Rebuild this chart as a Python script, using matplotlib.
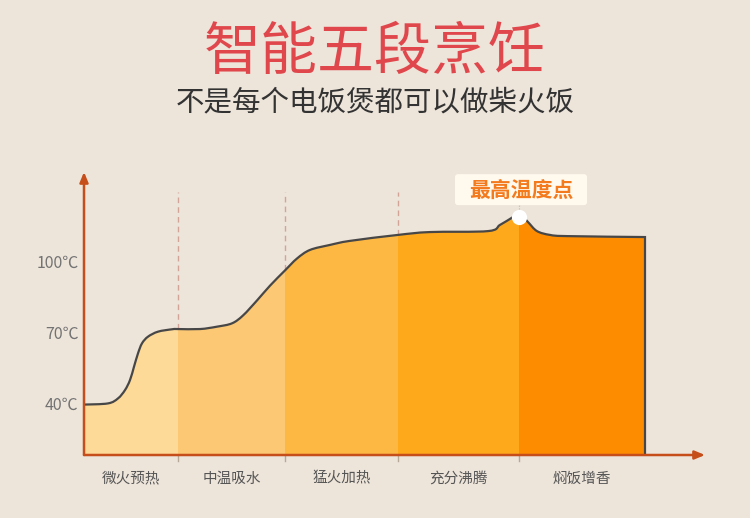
import numpy as np
import matplotlib.pyplot as plt
from matplotlib.patches import FancyBboxPatch, PathPatch, Rectangle
from matplotlib.path import Path

plt.rcParams['font.family'] = ['Noto Sans CJK SC', 'DejaVu Sans']

# temperature curve (time in arbitrary units, temperature in degC)
t = [0, 24, 34, 41, 46, 50, 54, 58, 64, 74, 88, 94, 116, 133, 148, 159, 173,
     186, 201, 213, 226, 246, 266, 314, 346, 404, 416, 429, 435, 444, 453,
     466, 483, 561]
temp = [40.5, 41.0, 43.1, 46.6, 50.8, 56.4, 62.0, 66.2, 69.0, 71.1, 72.1, 72.2,
        72.2, 73.2, 74.6, 77.9, 84.2, 90.4, 96.8, 101.8, 105.4, 107.5, 109.2,
        111.7, 112.9, 113.3, 115.9, 119.2, 120.9, 117.1, 113.3, 111.7, 111.2,
        110.8]

stages = ['微火预热', '中温吸水', '猛火加热', '充分沸腾', '焖饭增香']
stage_edges = [0, 94, 201, 314, 435, 561]
stage_colors = ['#FEDA98', '#FCC874', '#FDB843', '#FEA81C', '#FE8C00']
yticks = [40, 70, 100]
ytick_labels = ['40℃', '70℃', '100℃']
peak_label = '最高温度点'


def smooth_path(x, y):
    # Catmull-Rom through the points, written as cubic Bezier segments
    p = np.column_stack([x, y]).astype(float)
    verts = [p[0]]
    codes = [Path.MOVETO]
    n = len(p)
    for i in range(n - 1):
        p0 = p[i - 1] if i > 0 else p[i]
        p3 = p[i + 2] if i + 2 < n else p[i + 1]
        c1 = p[i] + (p[i + 1] - p0) / 6
        c2 = p[i + 1] - (p3 - p[i]) / 6
        verts += [c1, c2, p[i + 1]]
        codes += [Path.CURVE4] * 3
    return verts, codes


bg = '#EDE4DA'
fig = plt.figure(figsize=(7.5, 5.18), dpi=100, facecolor=bg)
ax = fig.add_axes([84 / 750, 63 / 518, 621 / 750, 283 / 518])
ax.set_facecolor(bg)
ax.set_xlim(0, 621)
ax.set_ylim(19.35, 138.1)

t = np.array(t)
temp = np.array(temp)
ymin = ax.get_ylim()[0]

verts, codes = smooth_path(t, temp)
line_path = Path(verts + [(t[-1], ymin)], codes + [Path.LINETO])
area_path = Path(verts + [(t[-1], ymin), (t[0], ymin), (t[0], temp[0])],
                 codes + [Path.LINETO, Path.LINETO, Path.CLOSEPOLY])
area = PathPatch(area_path, fc='none', ec='none', transform=ax.transData)
ax.add_patch(area)

# coloured stage bands under the curve
for i in range(len(stages)):
    a, b = stage_edges[i], stage_edges[i + 1]
    r = Rectangle((a, ymin), b - a, 130, fc=stage_colors[i], ec='none', zorder=1)
    ax.add_patch(r)
    r.set_clip_path(area)

ax.add_patch(PathPatch(line_path, fc='none', ec='#474747', lw=1.6, zorder=3))

# dashed separators above the curve
for e in stage_edges[1:4]:
    yv = temp[t == e][0]
    ax.plot([e, e], [yv, 129.7], color='#D2A397', lw=1, ls=(0, (4, 3)), zorder=2)

# short ticks below the x axis
for e in stage_edges[1:5]:
    ax.plot([e, e], [0, -0.02], transform=ax.get_xaxis_transform(),
            color='#B8A898', lw=1, clip_on=False, zorder=2)

# axes with arrows
for s in ax.spines.values():
    s.set_visible(False)
ax.set_xticks([])
ax.set_yticks([])
axis_c = '#C64E1B'
ax.annotate('', xy=(1.0, 0), xytext=(0, 0), xycoords='axes fraction',
            arrowprops=dict(arrowstyle='-|>,head_length=0.6,head_width=0.25',
                            color=axis_c, lw=1.8, shrinkA=0, shrinkB=0), zorder=5)
ax.annotate('', xy=(0, 1.0), xytext=(0, 0), xycoords='axes fraction',
            arrowprops=dict(arrowstyle='-|>,head_length=0.6,head_width=0.25',
                            color=axis_c, lw=1.8, shrinkA=0, shrinkB=0), zorder=5)

for v, lab in zip(yticks, ytick_labels):
    ax.annotate(lab, xy=(0, v), xycoords=('axes fraction', 'data'),
                xytext=(-4, 0), textcoords='offset points', ha='right',
                va='center', fontsize=11.5, color='#737373')

for i, name in enumerate(stages):
    c = (stage_edges[i] + stage_edges[i + 1]) / 2
    ax.annotate(name, xy=(c, 0), xycoords=('data', 'axes fraction'),
                xytext=(0, -17), textcoords='offset points', ha='center',
                va='center', fontsize=10.5, color='#555555')

# peak marker and label
ipk = int(np.argmax(temp))
ax.plot(t[ipk], temp[ipk] - 1.7, 'o', ms=11, color='white', mec='none', zorder=6)
ax.plot([t[ipk], t[ipk]], [temp[ipk] + 1.5, 124.2], color='#C8B8A8', lw=0.8,
        ls=(0, (1, 1.5)), zorder=2)
box = FancyBboxPatch((371, 124.2), 132, 13.0, boxstyle='round,pad=0,rounding_size=3',
                     fc='#FFF9EE', ec='none', zorder=6, mutation_aspect=0.4)
ax.add_patch(box)
ax.text(437, 130.6, peak_label, ha='center', va='center', fontsize=15,
        fontweight='bold', color='#F47A1E', zorder=7)

fig.text(0.5, 1 - 53 / 518, '智能五段烹饪', ha='center', va='center',
         fontsize=41, color='#E0474C')
fig.text(0.5, 1 - 102 / 518, '不是每个电饭煲都可以做柴火饭', ha='center',
         va='center', fontsize=20.5, color='#333333')

fig.savefig('out.png', dpi=100, facecolor=bg)
